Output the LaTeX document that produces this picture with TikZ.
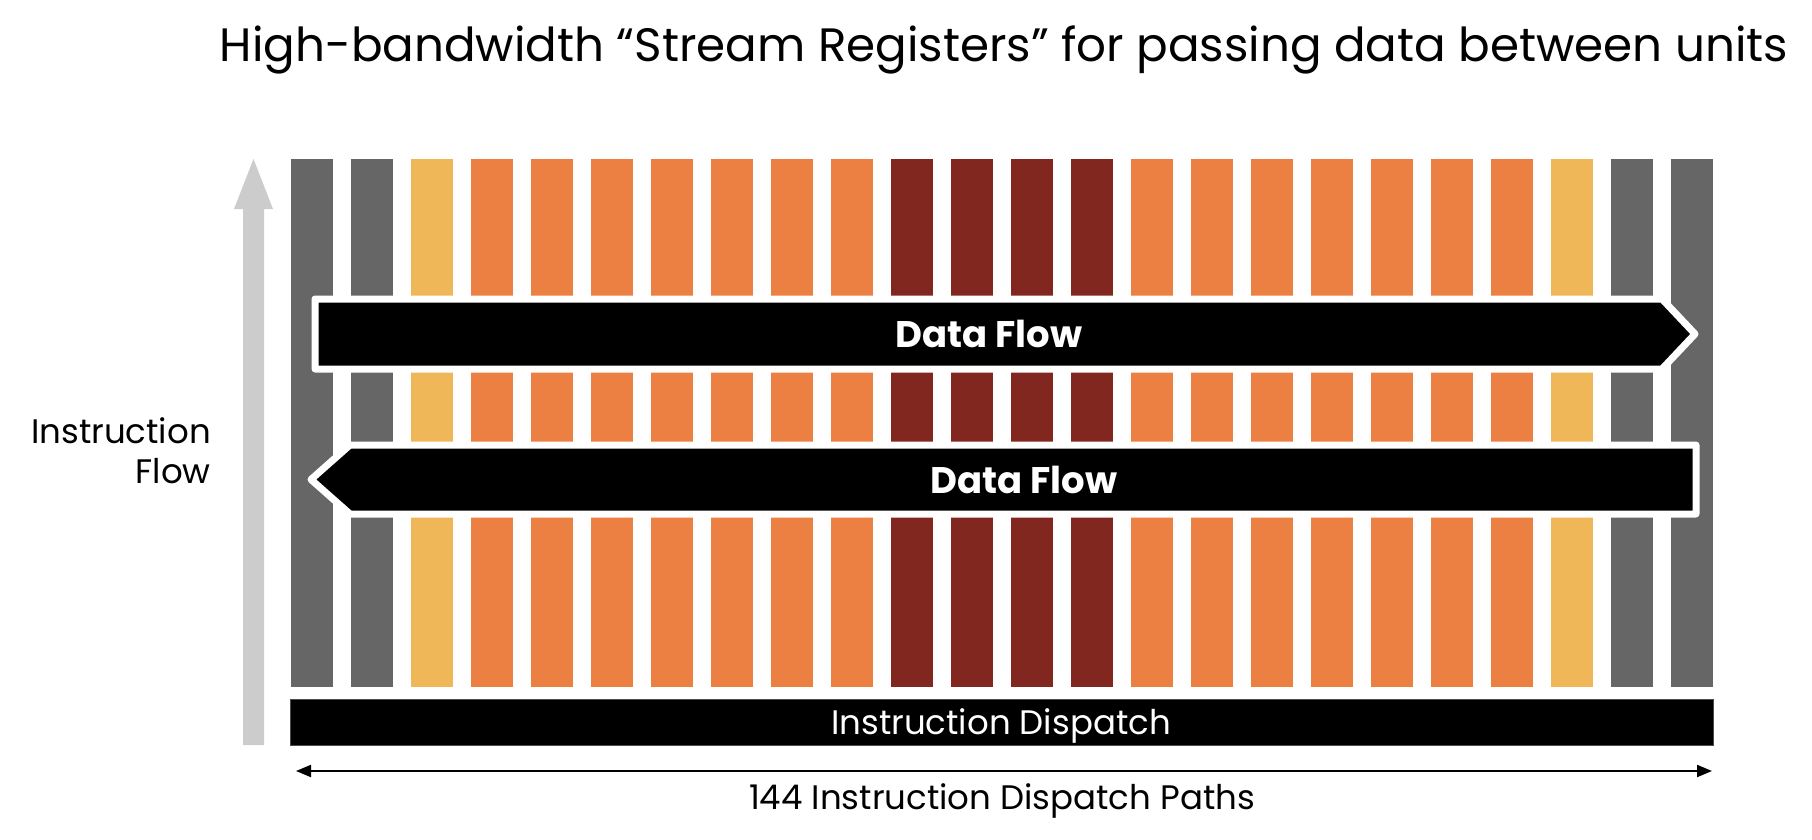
\documentclass[tikz,border=0pt]{standalone}
\usepackage{fontspec}
\setmainfont{Poppins}
\usetikzlibrary{arrows.meta}
\definecolor{bargray}{HTML}{666666}
\definecolor{baryellow}{HTML}{EFB757}
\definecolor{barorange}{HTML}{EB8042}
\definecolor{barred}{HTML}{82271F}
\definecolor{flowgray}{HTML}{CCCCCC}
\tikzset{
  bar/.style={fill=#1, draw=none},
  flowarrow/.style={fill=black, draw=white, line width=7pt, line join=round},
  flowtext/.style={text=white, font=\fontsize{37}{44}\selectfont\bfseries, anchor=base, inner sep=0pt},
  plaintext/.style={font=\fontsize{34}{40}\selectfont, anchor=base, inner sep=0pt},
}
\begin{document}
\begin{tikzpicture}[x=1pt,y=-1pt]
\useasboundingbox (0,0) rectangle (1812,840);
% title
\node[font=\fontsize{46.8}{56}\selectfont, anchor=base, inner sep=0pt] (title) at (1004,62) {High-bandwidth “Stream Registers” for passing data between units};
% instruction flow arrow
\fill[flowgray] (243,745) -- (243,209) -- (234,209) -- (253.5,159) -- (273,209) -- (264,209) -- (264,745) -- cycle;
\node[font=\fontsize{34}{40}\selectfont, anchor=base east, inner sep=0pt] (if1) at (211,443) {Instruction};
\node[font=\fontsize{34}{40}\selectfont, anchor=base east, inner sep=0pt] (if2) at (211,483) {Flow};
% bars
\foreach \c [count=\k from 0] in {bargray,bargray,baryellow,barorange,barorange,barorange,barorange,barorange,barorange,barorange,barred,barred,barred,barred,barorange,barorange,barorange,barorange,barorange,barorange,barorange,baryellow,bargray,bargray}{
  \fill[bar=\c] ({291+60*\k},159) rectangle ({333+60*\k},687);
}
% data flow arrows
\path[flowarrow] (315,299) -- (1662,299) -- (1695,334) -- (1662,369) -- (315,369) -- cycle;
\node[flowtext] (df1) at (989,347) {Data Flow};
\path[flowarrow] (350,445) -- (1696,445) -- (1696,514) -- (350,514) -- (311,479.5) -- cycle;
\node[flowtext] (df2) at (1024,493) {Data Flow};
% dispatch box
\node[fill=black, draw=black!70, line width=1pt, minimum width=1423pt, minimum height=46pt, inner sep=0pt, anchor=north west] (disp) at (290,699) {};
\node[plaintext, text=white] (disptext) at (1001,734) {Instruction Dispatch};
% dimension arrow
\coordinate (dl) at (296,771);
\coordinate (dr) at (1712,771);
\draw[line width=2pt, {Triangle[length=15pt,width=12pt]}-{Triangle[length=15pt,width=12pt]}] (dl) -- (dr);
\node[plaintext] (paths) at (1002,809) {144 Instruction Dispatch Paths};
\end{tikzpicture}
\end{document}
